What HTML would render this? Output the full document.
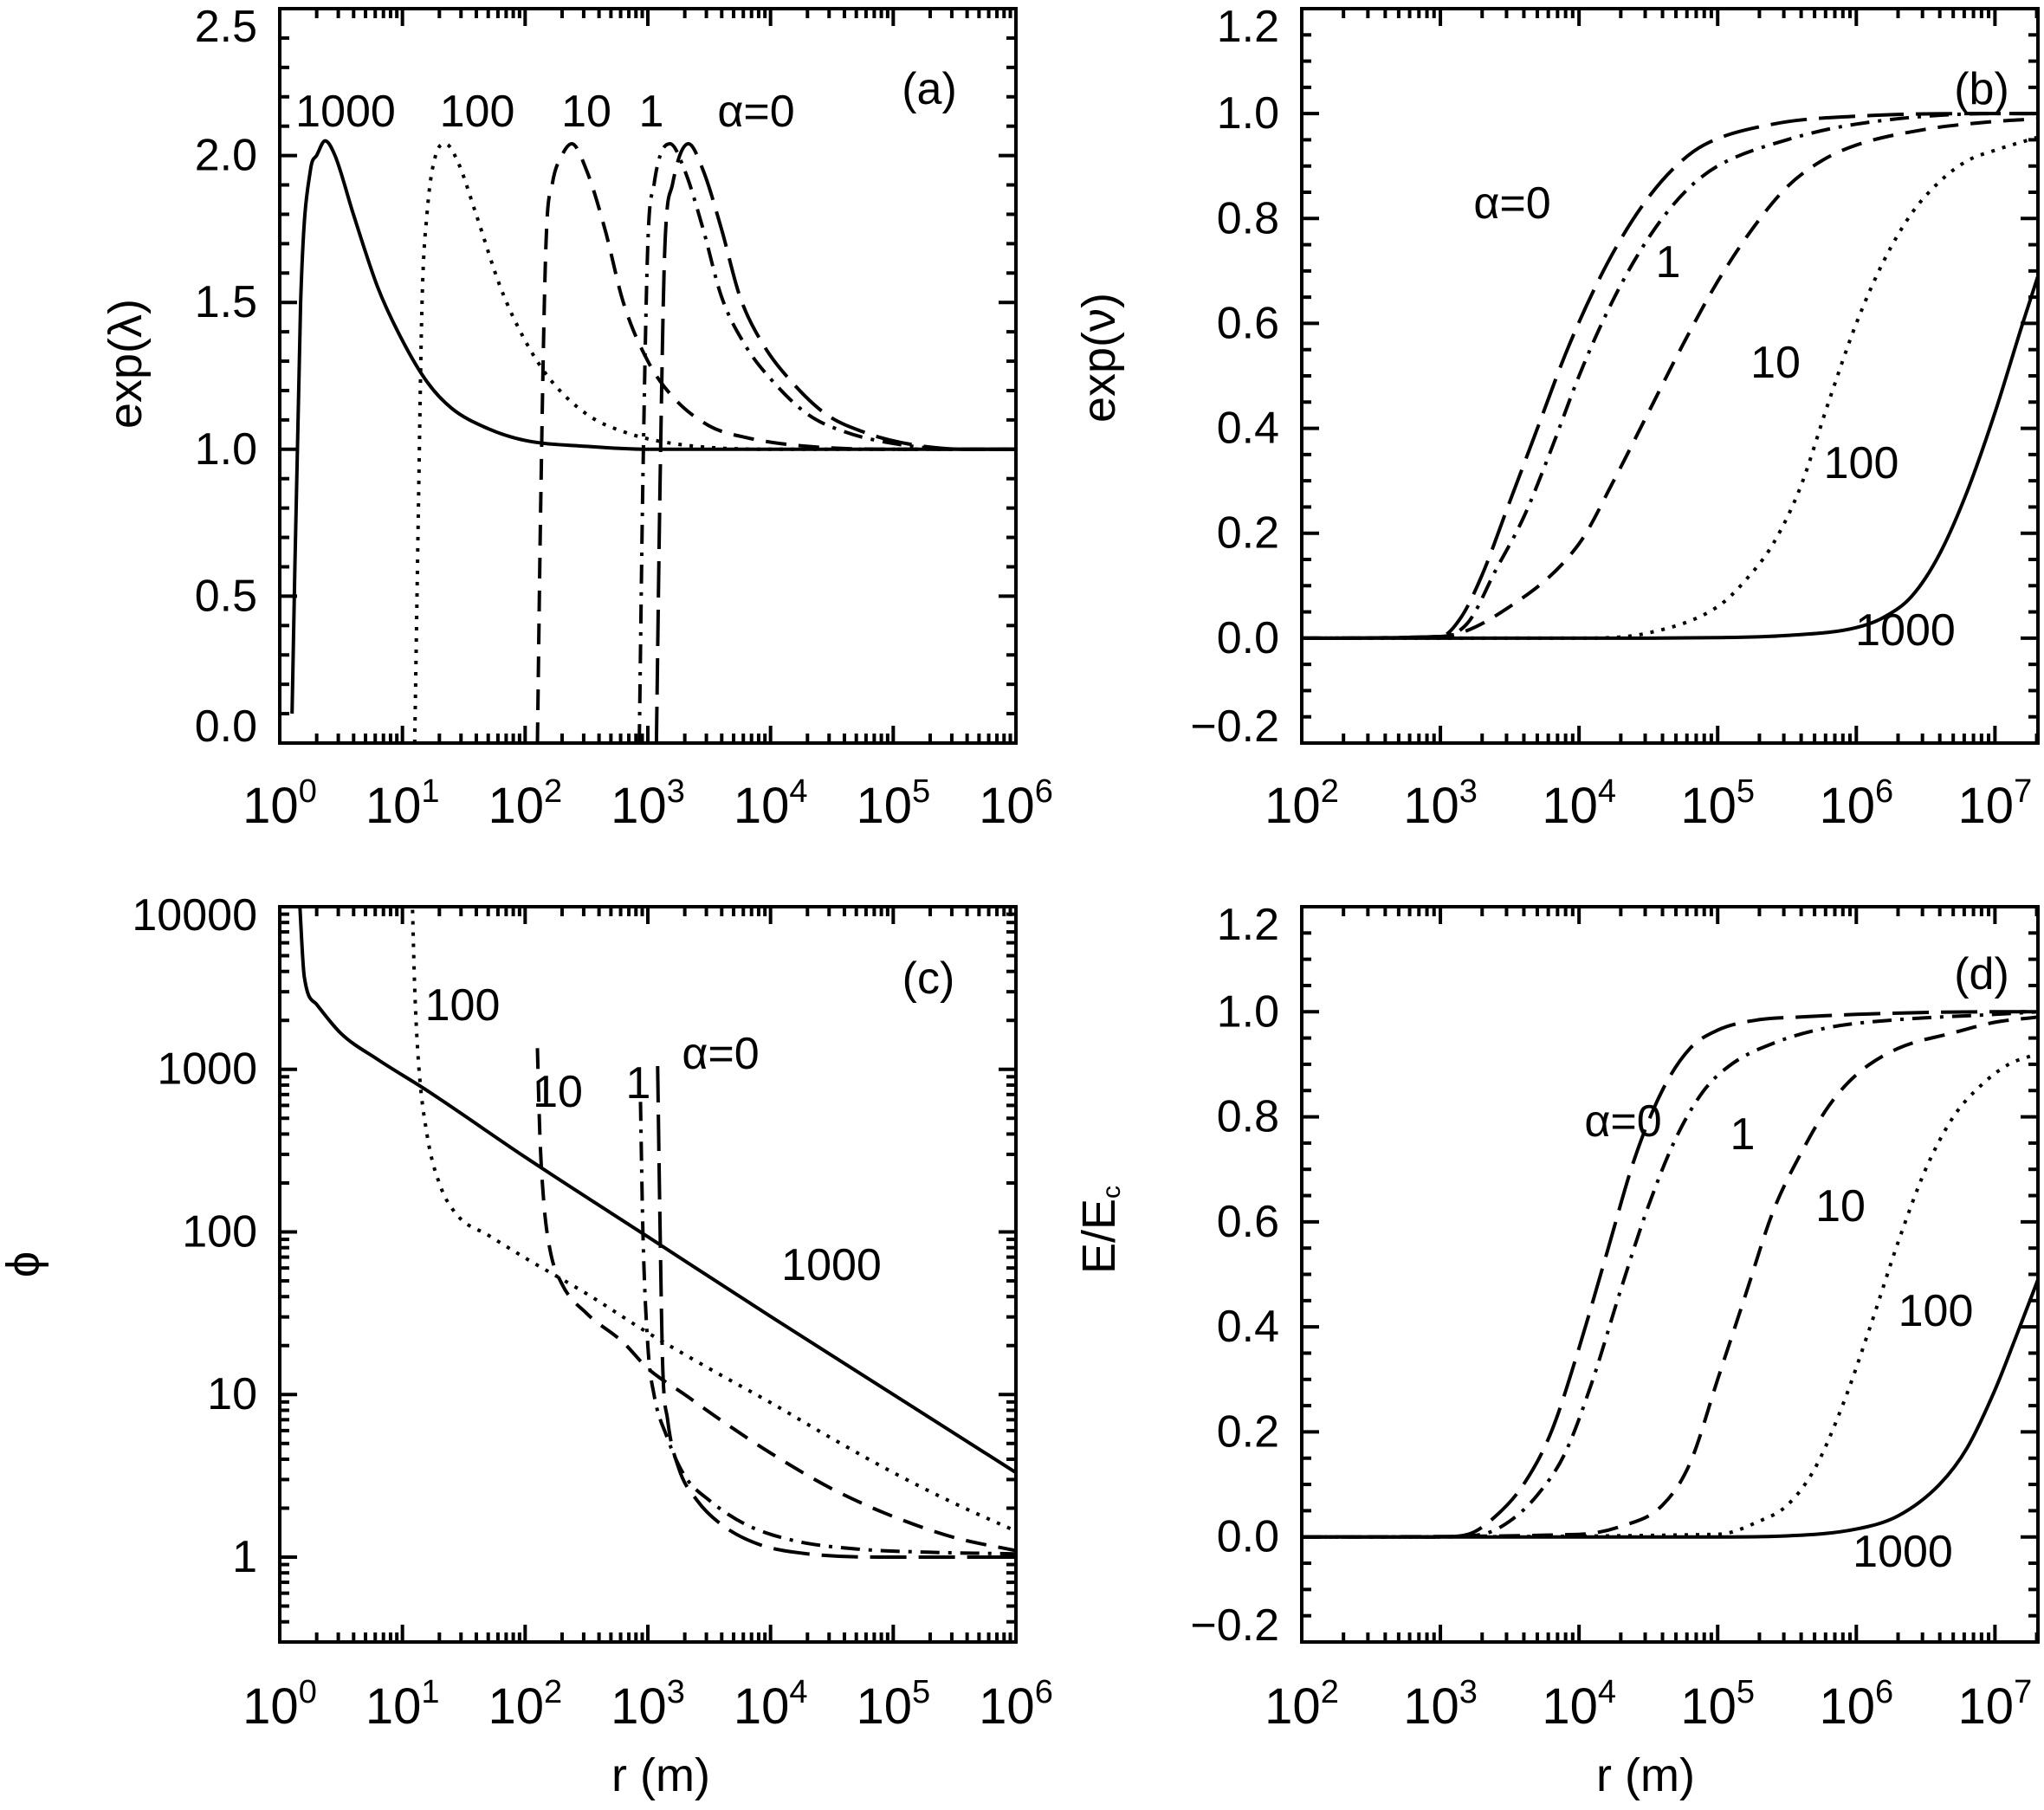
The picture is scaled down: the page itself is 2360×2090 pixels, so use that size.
<!DOCTYPE html>
<html><head><meta charset="utf-8">
<style>
html,body{margin:0;padding:0;background:#fff;}
svg{display:block;}
text{font-family:"Liberation Sans",sans-serif;fill:#000;}
</style></head>
<body>
<svg id="fig" width="2360" height="2090" viewBox="0 0 2360 2090" xmlns="http://www.w3.org/2000/svg"></svg>
<script>
// ---------- Panel (a): exp(lambda) vs log10 r ----------
const aX1000 = [0.1,0.17,0.25,0.3,0.37,0.45,0.6,0.8,1.0,1.2,1.4,1.7,2.0,2.5,3,4,6];
const aY1000 = [0.1,1.5,1.95,2.0,2.05,2.0,1.8,1.55,1.37,1.23,1.14,1.07,1.03,1.01,1.0,1.0,1.0];
const aX100 = [1.1,1.13,1.16,1.2,1.27,1.35,1.45,1.6,1.8,2.0,2.2,2.5,2.8,3.2,4,6];
const aY100 = [0,0.8,1.5,1.8,2.0,2.04,1.98,1.8,1.55,1.37,1.24,1.12,1.06,1.02,1.0,1.0];
const aX10 = [2.1,2.13,2.17,2.22,2.3,2.38,2.5,2.65,2.8,3.0,3.2,3.5,3.8,4.3,5,6];
const aY10 = [0,0.9,1.7,1.9,2.0,2.04,1.95,1.75,1.5,1.3,1.18,1.08,1.04,1.01,1.0,1.0];
const aX1 = [2.93,2.96,3.0,3.05,3.1,3.18,3.3,3.45,3.6,3.8,4.0,4.3,4.6,5.0,5.5,6];
const aY1 = [0,0.9,1.7,1.9,2.0,2.04,1.95,1.75,1.52,1.35,1.24,1.12,1.06,1.02,1.0,1.0];
const aX0 = [3.07,3.1,3.14,3.2,3.26,3.33,3.45,3.6,3.75,3.95,4.15,4.45,4.75,5.1,5.6,6];
const aY0 = [0,0.9,1.7,1.9,2.0,2.04,1.95,1.75,1.52,1.35,1.24,1.12,1.06,1.02,1.0,1.0];
const aYTicks = ["0.0","0.5","1.0","1.5","2.0","2.5"];
// ---------- Panel (b): exp(nu) ----------
const bX1000 = [2,4,5,5.5,6,6.2,6.4,6.6,6.8,7.0,7.2,7.31];
const bY1000 = [0,0,0.001,0.005,0.02,0.04,0.08,0.16,0.28,0.43,0.6,0.69];
const bX100 = [2,4,4.5,5,5.2,5.4,5.6,5.8,6.0,6.2,6.4,6.6,6.8,7.0,7.31];
const bY100 = [0,0,0.01,0.06,0.11,0.18,0.29,0.45,0.6,0.72,0.81,0.87,0.91,0.93,0.955];
const bX10 = [2,3,3.5,4,4.25,4.5,4.75,5,5.25,5.5,5.75,6,6.5,7,7.31];
const bY10 = [0,0.003,0.06,0.18,0.3,0.43,0.56,0.68,0.78,0.86,0.91,0.94,0.97,0.985,0.99];
const bX1 = [2,3,3.2,3.4,3.6,3.8,4.0,4.2,4.4,4.6,4.8,5.0,5.5,6,7,7.31];
const bY1 = [0,0.003,0.03,0.13,0.23,0.36,0.5,0.62,0.72,0.8,0.86,0.9,0.95,0.98,1.0,1.0];
const bX0 = [2,3,3.15,3.3,3.5,3.7,3.9,4.1,4.3,4.5,4.7,4.9,5.4,6,7,7.31];
const bY0 = [0,0.003,0.04,0.12,0.26,0.4,0.54,0.66,0.76,0.84,0.9,0.94,0.98,0.995,1,1];
const bdYTicks = ["\u22120.2","0.0","0.2","0.4","0.6","0.8","1.0","1.2"];
// ---------- Panel (c): phi (log10) ----------
const cX1000 = [0.16,0.2,0.3,0.5,0.8,1.2,2,3,4,5,6];
const cY1000 = [4.05,3.57,3.4,3.22,3.06,2.87,2.46,1.97,1.48,1.0,0.52];
const cX100 = [1.08,1.1,1.13,1.2,1.3,1.45,1.7,2,2.5,3,3.5,4,4.5,5,5.5,6];
const cY100 = [4.05,3.5,3.05,2.6,2.3,2.1,1.98,1.84,1.62,1.38,1.16,0.95,0.73,0.52,0.33,0.16];
const cX10 = [2.1,2.12,2.15,2.2,2.3,2.5,2.8,3.0,3.3,3.6,4,4.5,5,5.5,6];
const cY10 = [3.13,2.6,2.2,1.9,1.68,1.5,1.32,1.16,1.0,0.84,0.64,0.42,0.25,0.12,0.04];
const cX1 = [2.94,2.96,3.0,3.05,3.15,3.3,3.5,3.8,4.2,4.7,5.3,6];
const cY1 = [2.8,2.0,1.3,1.0,0.75,0.5,0.35,0.2,0.1,0.05,0.03,0.02];
const cX0 = [3.08,3.1,3.12,3.16,3.25,3.4,3.6,3.9,4.3,5,6];
const cY0 = [3.02,2.0,1.2,0.85,0.55,0.35,0.2,0.08,0.02,0.0,0.0];
const cYTicks = ["1","10","100","1000","10000"];
// ---------- Panel (d): E/Ec ----------
const dX1000 = [2,5,5.5,6.0,6.3,6.6,6.8,7.0,7.15,7.31];
const dY1000 = [0,0,0.002,0.015,0.04,0.1,0.17,0.28,0.38,0.49];
const dX100 = [2,5,5.3,5.5,5.7,5.9,6.1,6.3,6.5,6.7,6.9,7.1,7.31];
const dY100 = [0,0.005,0.03,0.06,0.13,0.25,0.4,0.56,0.7,0.8,0.86,0.9,0.92];
const dX10 = [2,4,4.3,4.6,4.8,5.0,5.2,5.4,5.6,5.8,6.0,6.3,6.7,7,7.31];
const dY10 = [0,0.005,0.02,0.06,0.14,0.3,0.46,0.62,0.73,0.82,0.88,0.93,0.96,0.98,0.99];
const dX1 = [2,3,3.3,3.5,3.7,3.9,4.1,4.3,4.5,4.7,4.9,5.1,5.4,5.8,6.3,7,7.31];
const dY1 = [0,0,0.005,0.03,0.08,0.16,0.3,0.47,0.63,0.76,0.85,0.9,0.94,0.97,0.985,0.995,1];
const dX0 = [2,3,3.2,3.4,3.6,3.8,4.0,4.2,4.4,4.6,4.8,5.0,5.3,5.6,6,7,7.31];
const dY0 = [0,0,0.005,0.04,0.1,0.2,0.36,0.54,0.72,0.85,0.93,0.965,0.985,0.99,0.995,1,1];

const NS = "http://www.w3.org/2000/svg";
const svg = document.getElementById('fig');
function mk(tag, attrs, parent){ const e=document.createElementNS(NS,tag); for(const k in attrs) e.setAttribute(k,attrs[k]); (parent||svg).appendChild(e); return e; }
function txt(s,x,y,size,anchor,parent){ const t=mk('text',{x:x,y:y,'font-size':size,'text-anchor':anchor||'middle'},parent); t.textContent=s; return t; }

const STY = {
  solid:{dash:'none'}, dotted:{dash:'4 9'}, dashed:{dash:'24 14'},
  dashdot:{dash:'22 10 4 10'}, longdash:{dash:'42 14'}
};

function monoPath(P){
  const n=P.length; if(n<2) return '';
  const dx=[],m=[],t=[];
  for(let i=0;i<n-1;i++){ dx[i]=P[i+1][0]-P[i][0]; m[i]=dx[i]===0?0:(P[i+1][1]-P[i][1])/dx[i]; }
  t[0]=m[0]; t[n-1]=m[n-2];
  for(let i=1;i<n-1;i++){ t[i]=(m[i-1]*m[i]<=0)?0:(m[i-1]+m[i])/2; }
  for(let i=0;i<n-1;i++){
    if(m[i]===0){t[i]=0;t[i+1]=0;continue;}
    const a=t[i]/m[i], b=t[i+1]/m[i], s=a*a+b*b;
    if(s>9){ const k=3/Math.sqrt(s); t[i]=k*a*m[i]; t[i+1]=k*b*m[i]; }
  }
  let d='M'+P[0][0].toFixed(1)+' '+P[0][1].toFixed(1);
  for(let i=0;i<n-1;i++){
    const h=dx[i]/3;
    d+=' C'+(P[i][0]+h).toFixed(1)+' '+(P[i][1]+t[i]*h).toFixed(1)+' '+(P[i+1][0]-h).toFixed(1)+' '+(P[i+1][1]-t[i+1]*h).toFixed(1)+' '+P[i+1][0].toFixed(1)+' '+P[i+1][1].toFixed(1);
  }
  return d;
}

function panel(cfg){
  const g = mk('g',{});
  
  
  const L=cfg.L,R=cfg.R,T=cfg.T,B=cfg.B;
  const sx = v => L + (v - cfg.xmin)/(cfg.xmax-cfg.xmin)*(R-L);
  const sy = v => B - (v - cfg.ymin)/(cfg.ymax-cfg.ymin)*(B-T);
  const clip = mk('clipPath',{id:'clip-'+cfg.name},g);
  mk('rect',{x:L,y:T,width:R-L,height:B-T},clip);
  const tk = mk('g',{stroke:'#000','stroke-width':4},g);
  
  
  for(let d=Math.floor(cfg.xmin); d<=cfg.xmax; d++){
    for(let m=1;m<=9;m++){
      const v=d+Math.log10(m); if(v<cfg.xmin-1e-6||v>cfg.xmax+1e-6) continue;
      const len = m===1?20:11, x=sx(v);
      mk('line',{x1:x,y1:B,x2:x,y2:B-len},tk);
      mk('line',{x1:x,y1:T,x2:x,y2:T+len},tk);
    }
  }
  for(let d=Math.ceil(cfg.xmin); d<=Math.floor(cfg.xmax+1e-6); d++){
    const t = mk('text',{x:sx(d),y:cfg.xlabY,'font-size':58,'text-anchor':'middle'},g);
    
    
    const a=mk('tspan',{},t); a.textContent='10';
    const b=mk('tspan',{dy:-24,'font-size':38},t); b.textContent=String(d);
  }
  if(cfg.ylog){
    for(let d=Math.floor(cfg.ymin); d<=cfg.ymax; d++){
      for(let m=1;m<=9;m++){
        const v=d+Math.log10(m); if(v<cfg.ymin||v>cfg.ymax+1e-6) continue;
        const len=m===1?20:11, y=sy(v);
        mk('line',{x1:L,y1:y,x2:L+len,y2:y},tk);
        mk('line',{x1:R,y1:y,x2:R-len,y2:y},tk);
      }
    }
  } else {
    for(let v=cfg.ymin; v<=cfg.ymax+1e-6; v+=cfg.minor){
      const isMaj = Math.abs(Math.round((v-cfg.ymin)/cfg.major)*cfg.major-(v-cfg.ymin))<1e-6;
      const len=isMaj?20:11, y=sy(v);
      mk('line',{x1:L,y1:y,x2:L+len,y2:y},tk);
      mk('line',{x1:R,y1:y,x2:R-len,y2:y},tk);
    }
  }
  cfg.yticks.forEach((s,i)=>{
    const v = cfg.ylog ? i : cfg.ymin + i*cfg.major;
    let y = sy(v)+17;
    y = Math.max(T+(cfg.ylog?27:38), Math.min(B-2, y));
    const t = txt(s, cfg.ylabX, y, 52, 'end', g);
    
    
  });
  const fr = mk('rect',{x:L,y:T,width:R-L,height:B-T,fill:'none',stroke:'#000','stroke-width':4},g);
  
  
  cfg.series.forEach(s=>{
    const P = s.x.map((v,i)=>[sx(v), sy(s.y[i])]);
    const p = mk('path',{d:monoPath(P),fill:'none',stroke:'#000','stroke-width':4,'stroke-dasharray':STY[s.style].dash,'clip-path':'url(#clip-'+cfg.name+')','stroke-linejoin':'round'},g);
    
    
  });
  cfg.labels.forEach(l=>{
    const t=txt(l[0],l[1],l[2],52,'middle',g);
    
    
  });
}

panel({name:'panel-a',L:323,R:1173,T:10,B:858,xmin:0,xmax:6,ymin:0,ymax:2.5,major:0.5,minor:0.1,
  yticks:aYTicks,ylabX:297,xlabY:950,
  series:[{name:'line-alpha-1000',x:aX1000,y:aY1000,style:'solid'},{name:'line-alpha-100',x:aX100,y:aY100,style:'dotted'},
    {name:'line-alpha-10',x:aX10,y:aY10,style:'dashed'},{name:'line-alpha-1',x:aX1,y:aY1,style:'dashdot'},{name:'line-alpha-0',x:aX0,y:aY0,style:'longdash'}],
  labels:[['1000',399,146,'label-1000'],['100',551,146,'label-100'],['10',677,146,'label-10'],['1',752,146,'label-1'],['\u03B1=0',873,146,'label-alpha-0'],['(a)',1073,120,'panel-label-a']]});
panel({name:'panel-b',L:1503,R:2353,T:10,B:858,xmin:2,xmax:7.31,ymin:-0.2,ymax:1.2,major:0.2,minor:0.05,
  yticks:bdYTicks,ylabX:1477,xlabY:950,
  series:[{name:'line-alpha-1000',x:bX1000,y:bY1000,style:'solid'},{name:'line-alpha-100',x:bX100,y:bY100,style:'dotted'},
    {name:'line-alpha-10',x:bX10,y:bY10,style:'dashed'},{name:'line-alpha-1',x:bX1,y:bY1,style:'dashdot'},{name:'line-alpha-0',x:bX0,y:bY0,style:'longdash'}],
  labels:[['\u03B1=0',1746,252,'label-alpha-0'],['1',1926,320,'label-1'],['10',2050,436,'label-10'],['100',2149,552,'label-100'],['1000',2200,745,'label-1000'],['(b)',2288,120,'panel-label-b']]});
panel({name:'panel-c',L:323,R:1173,T:1047,B:1896,xmin:0,xmax:6,ymin:-0.522,ymax:4,ylog:true,
  yticks:cYTicks,ylabX:297,xlabY:1990,
  series:[{name:'line-alpha-1000',x:cX1000,y:cY1000,style:'solid'},{name:'line-alpha-100',x:cX100,y:cY100,style:'dotted'},
    {name:'line-alpha-10',x:cX10,y:cY10,style:'dashed'},{name:'line-alpha-1',x:cX1,y:cY1,style:'dashdot'},{name:'line-alpha-0',x:cX0,y:cY0,style:'longdash'}],
  labels:[['100',534,1178,'label-100'],['10',644,1278,'label-10'],['1',737,1268,'label-1'],['\u03B1=0',832,1234,'label-alpha-0'],['1000',960,1478,'label-1000'],['(c)',1072,1147,'panel-label-c']]});
panel({name:'panel-d',L:1503,R:2353,T:1047,B:1896,xmin:2,xmax:7.31,ymin:-0.2,ymax:1.2,major:0.2,minor:0.05,
  yticks:bdYTicks,ylabX:1477,xlabY:1990,
  series:[{name:'line-alpha-1000',x:dX1000,y:dY1000,style:'solid'},{name:'line-alpha-100',x:dX100,y:dY100,style:'dotted'},
    {name:'line-alpha-10',x:dX10,y:dY10,style:'dashed'},{name:'line-alpha-1',x:dX1,y:dY1,style:'dashdot'},{name:'line-alpha-0',x:dX0,y:dY0,style:'longdash'}],
  labels:[['\u03B1=0',1874,1312,'label-alpha-0'],['1',2012,1327,'label-1'],['10',2125,1410,'label-10'],['100',2235,1531,'label-100'],['1000',2197,1809,'label-1000'],['(d)',2288,1142,'panel-label-d']]});

function rot(s,x,y,name){ const t=mk('text',{x:x,y:y,'font-size':54,'text-anchor':'middle',transform:'rotate(-90 '+x+' '+y+')'}); t.textContent=s;
  
   return t; }
rot('exp(\u03BB)',163,420,'y-axis-title-a');
rot('exp(\u03BD)',1287,413,'y-axis-title-b');
rot('\u03D5',45,1460,'y-axis-title-c');
const ed = rot('E/E',1287,1420,'y-axis-title-d');
const sub = mk('tspan',{'font-size':30,dy:6},ed); sub.textContent='c';
const xt1 = txt('r (m)',763,2068,54,'middle');


const xt2 = txt('r (m)',1900,2068,54,'middle');


</script>
</body></html>
